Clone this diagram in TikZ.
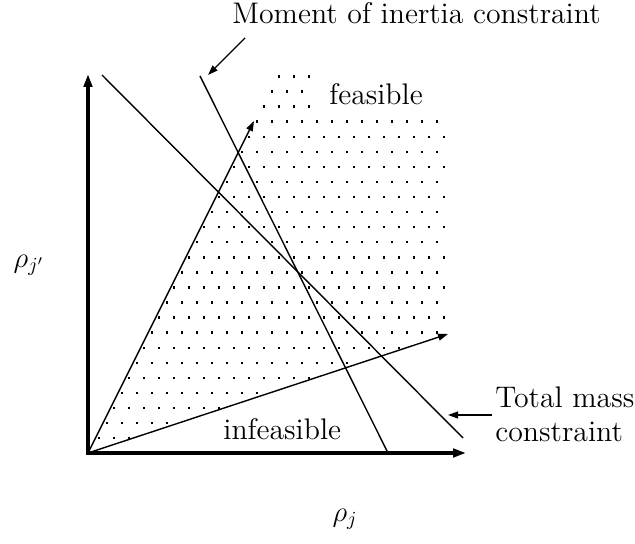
\documentclass[tikz,border=0pt]{standalone}
\usetikzlibrary{arrows.meta}
\begin{document}
\begin{tikzpicture}[x=0.5pt,y=-0.5pt,
  thin line/.style={line width=0.7pt},
  thin arrow/.style={line width=0.7pt,-{Triangle[length=5pt,width=3.4pt]}},
  axis line/.style={line width=2pt,-{Triangle[length=6.5pt,width=4.2pt]}},
  lbl/.style={inner sep=0pt,font=\fontsize{14.9}{17}\selectfont},
  dotpt/.style={fill=black}]
\useasboundingbox (0,0) rectangle (635,544);
% dot pattern
\foreach \k in {-3,...,21}{
  \pgfmathsetmacro\yy{121.7+15.07*\k}
  \pgfmathsetmacro\xs{isodd(\k) ? 99.2 : 91.7}
  \foreach \n in {0,...,24}{
    \pgfmathsetmacro\xx{\xs+15*\n}
    \pgfmathtruncatemacro\ok{((\xx>=88+(453-\yy)/2) && (\xx<=448) && (\yy<=453-(\xx-88)*0.3306) && ((\yy>=115) || (\xx<=312))) ? 1 : 0}
    \ifnum\ok=1 \fill[dotpt] (\xx-1.2,\yy-1.2) rectangle (\xx+1.2,\yy+1.2); \fi
  }
}
% coordinates
\coordinate (O) at (88,453);
\coordinate (Ytip) at (88,74);
\coordinate (Xtip) at (466,453);
\coordinate (A1) at (254,121);
\coordinate (A2) at (448,334);
\coordinate (M1) at (200,76);
\coordinate (M2) at (388,453);
\coordinate (T1) at (102,75);
\coordinate (T2) at (463,438);
\coordinate (MA1) at (245,38);
\coordinate (MA2) at (208,75);
\coordinate (TA1) at (492,415);
\coordinate (TA2) at (448,415);
% constraint lines
\draw[thin line] (T1) -- (T2);
\draw[thin line] (M1) -- (M2);
% ray arrows
\draw[thin arrow] (O) -- (A1);
\draw[thin arrow] (O) -- (A2);
% axes
\draw[axis line] ([yshift=-1pt]O) -- (Ytip);
\draw[axis line] ([xshift=-1pt]O) -- (Xtip);
% label arrows
\draw[thin arrow] (MA1) -- (MA2);
\draw[thin arrow] (TA1) -- (TA2);
% labels
\node[lbl,anchor=base west] (moi) at (232,23.5) {Moment of inertia constraint};
\node[lbl,anchor=base west] (feas) at (329,105) {feasible};
\node[lbl,anchor=base west] (infeas) at (223,439) {infeasible};
\node[lbl,anchor=base west] (tm1) at (495,407) {Total mass};
\node[lbl,anchor=base west] (tm2) at (495,441) {constraint};
\node[lbl] (rhojp) at (29,265) {$\rho_{j'}$};
\node[lbl] (rhoj) at (345,519) {$\rho_{j}$};
\end{tikzpicture}
\end{document}
